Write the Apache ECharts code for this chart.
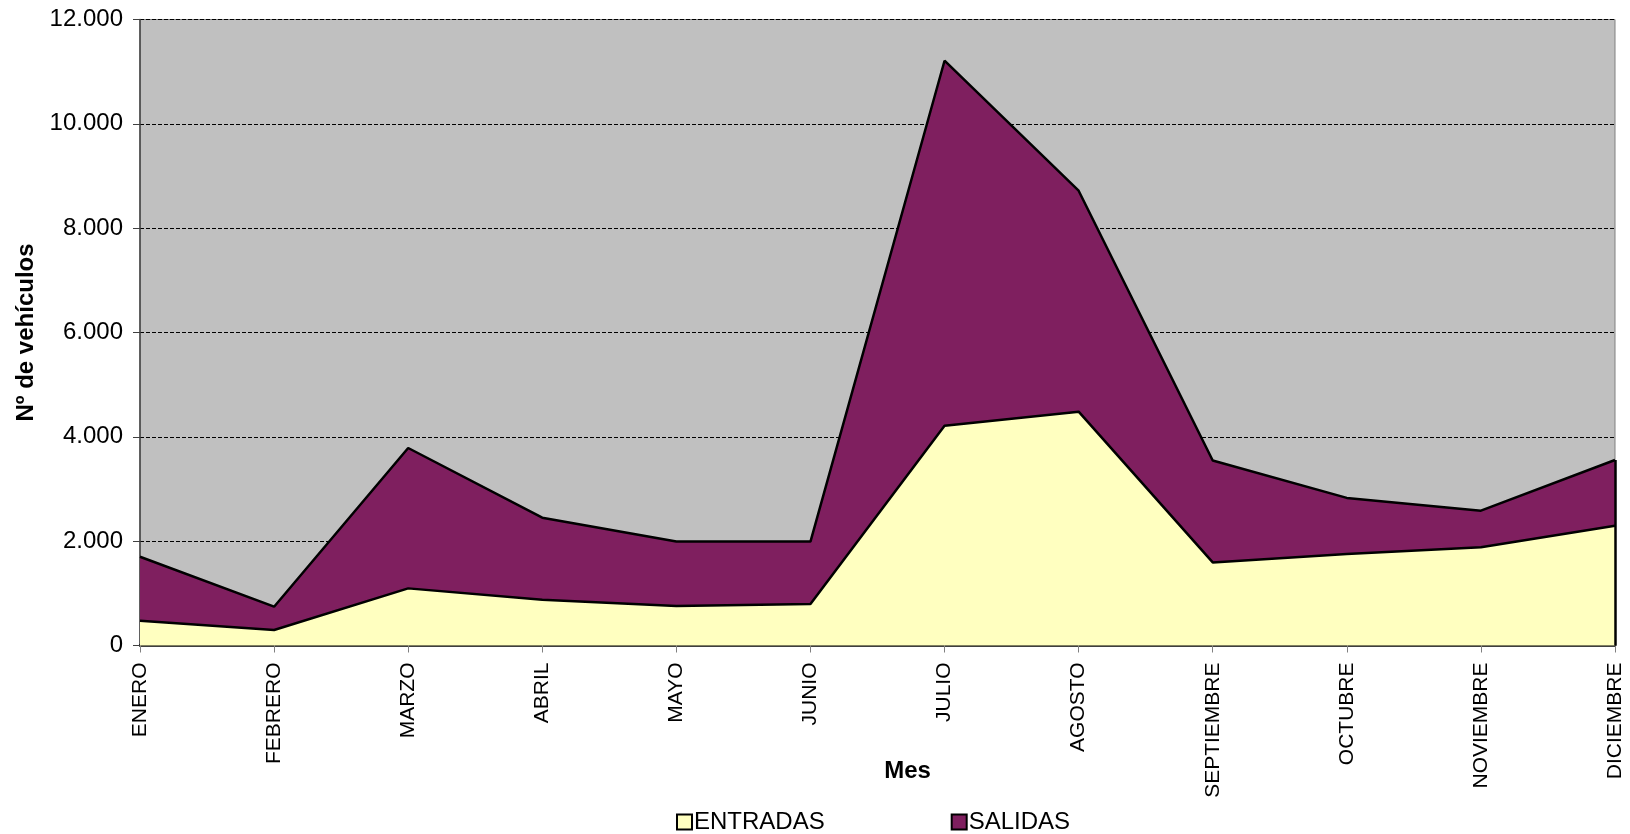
<!DOCTYPE html>
<html>
<head>
<meta charset="utf-8">
<script src="https://cdn.jsdelivr.net/npm/echarts@6/dist/echarts.min.js"></script>
<style>
html,body{margin:0;padding:0;background:#fff;}
#c{width:1630px;height:834px;}
</style>
</head>
<body>
<div id="c"></div>
<script>
var months = ['ENERO','FEBRERO','MARZO','ABRIL','MAYO','JUNIO','JULIO','AGOSTO','SEPTIEMBRE','OCTUBRE','NOVIEMBRE','DICIEMBRE'];
var entradas = [475, 297, 1095, 876, 757, 795, 4213, 4482, 1593, 1754, 1882, 2297];
var salidas = [1227, 447, 2691, 1574, 1235, 1197, 6997, 4236, 1953, 1075, 702, 1259];
var yTicks = [0, 2000, 4000, 6000, 8000, 10000, 12000];

var FONT = '"Liberation Sans", Arial, sans-serif';
var lastIdx = months.length - 1;
var lastTotal = entradas[lastIdx] + salidas[lastIdx];

var chart = echarts.init(document.getElementById('c'));
chart.setOption({
  animation: false,
  textStyle: {fontFamily: FONT},
  grid: {left: 140, right: 15, top: 19.5, bottom: 188.5, show: true, backgroundColor: '#C0C0C0', borderColor: '#808080', borderWidth: 1},
  legend: {
    left: 671, top: 805, itemWidth: 15, itemHeight: 15, itemGap: 126,
    icon: 'rect',
    itemStyle: {borderColor: '#000', borderWidth: 2},
    textStyle: {fontSize: 24, color: '#000', fontFamily: FONT, padding: [0,0,0,-3]},
    data: ['ENTRADAS', 'SALIDAS']
  },
  xAxis: {
    type: 'category', data: months, boundaryGap: false,
    name: 'Mes', nameLocation: 'middle', nameGap: 114, nameMoveOverlap: false,
    nameTextStyle: {fontSize: 24, fontWeight: 'bold', color: '#000', padding: [0,0,0,60], fontFamily: FONT},
    axisLine: {lineStyle: {color: '#000', width: 2.5}},
    axisTick: {show: true, length: 7, lineStyle: {color: '#808080', width: 1}},
    axisLabel: {rotate: 90, fontSize: 21, color: '#000', margin: 17, fontFamily: FONT}
  },
  yAxis: {
    type: 'value', min: 0, max: 12000, interval: 2000,
    name: 'Nº de vehículos', nameLocation: 'middle', nameGap: 102, nameMoveOverlap: false,
    nameTextStyle: {fontSize: 24, fontWeight: 'bold', color: '#000', fontFamily: FONT},
    axisLine: {show: true, lineStyle: {color: '#404040', width: 1.5}},
    axisTick: {show: true, length: 7, lineStyle: {color: '#404040'}},
    axisLabel: {fontSize: 24, color: '#000', margin: 17, fontFamily: FONT,
      formatter: function(v){ return yTicks.indexOf(v) >= 0 ? String(v).replace(/\B(?=(\d{3})+(?!\d))/g, '.') : ''; }},
    splitLine: {show: true, lineStyle: {color: '#000', type: [4,2], width: 1}}
  },
  series: [
    {
      name: 'ENTRADAS', type: 'line', stack: 'total', data: entradas, symbol: 'none',
      lineStyle: {color: '#000', width: 2.5},
      itemStyle: {color: '#FFFFC0'},
      areaStyle: {color: '#FFFFC0', opacity: 1}
    },
    {
      name: 'SALIDAS', type: 'line', stack: 'total', data: salidas, symbol: 'none',
      lineStyle: {color: '#000', width: 2.5},
      itemStyle: {color: '#7F1F5F'},
      areaStyle: {color: '#7F1F5F', opacity: 1},
      markLine: {
        silent: true, symbol: 'none', label: {show: false},
        lineStyle: {color: '#000', width: 2.5, type: 'solid'},
        data: [[{coord: [months[lastIdx], 0]}, {coord: [months[lastIdx], lastTotal]}]]
      }
    }
  ]
});
</script>
</body>
</html>
